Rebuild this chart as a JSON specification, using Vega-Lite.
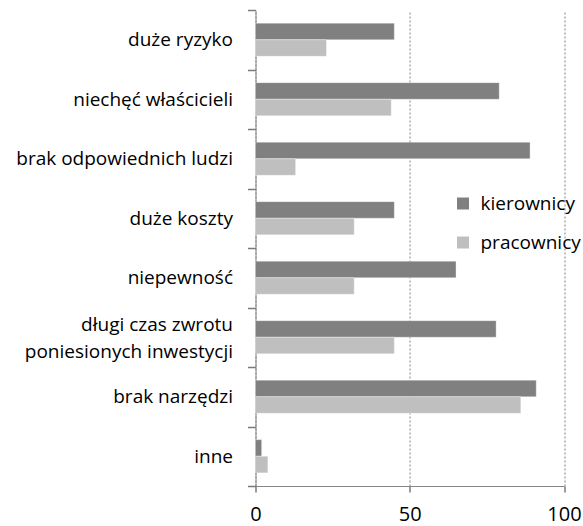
{
  "$schema": "https://vega.github.io/schema/vega-lite/v6.json",
  "autosize": {"type": "none"},
  "padding": {"left": 255.5, "top": 10, "right": 19, "bottom": 40},
  "width": 308.5,
  "height": 476,
  "background": "white",
  "config": {
    "view": {"stroke": null},
    "font": "Open Sans",
    "axis": {"ticks": true, "tickColor": "#7a7a7a", "tickWidth": 1.5, "tickOpacity": 1}
  },
  "data": {
    "values": [
      {"kategoria": "duże ryzyko", "grupa": "kierownicy", "wartosc": 45},
      {"kategoria": "duże ryzyko", "grupa": "pracownicy", "wartosc": 23},
      {"kategoria": "niechęć właścicieli", "grupa": "kierownicy", "wartosc": 79},
      {"kategoria": "niechęć właścicieli", "grupa": "pracownicy", "wartosc": 44},
      {"kategoria": "brak odpowiednich ludzi", "grupa": "kierownicy", "wartosc": 89},
      {"kategoria": "brak odpowiednich ludzi", "grupa": "pracownicy", "wartosc": 13},
      {"kategoria": "duże koszty", "grupa": "kierownicy", "wartosc": 45},
      {"kategoria": "duże koszty", "grupa": "pracownicy", "wartosc": 32},
      {"kategoria": "niepewność", "grupa": "kierownicy", "wartosc": 65},
      {"kategoria": "niepewność", "grupa": "pracownicy", "wartosc": 32},
      {"kategoria": "długi czas zwrotu poniesionych inwestycji", "grupa": "kierownicy", "wartosc": 78},
      {"kategoria": "długi czas zwrotu poniesionych inwestycji", "grupa": "pracownicy", "wartosc": 45},
      {"kategoria": "brak narzędzi", "grupa": "kierownicy", "wartosc": 91},
      {"kategoria": "brak narzędzi", "grupa": "pracownicy", "wartosc": 86},
      {"kategoria": "inne", "grupa": "kierownicy", "wartosc": 2},
      {"kategoria": "inne", "grupa": "pracownicy", "wartosc": 4}
    ]
  },
  "mark": {"type": "bar", "stroke": "#ffffff", "strokeOpacity": 0.35, "strokeWidth": 1},
  "encoding": {
    "y": {
      "field": "kategoria",
      "type": "nominal",
      "sort": null,
      "title": null,
      "scale": {"paddingInner": 0, "paddingOuter": 0},
      "axis": {
        "ticks": true,
        "tickBand": "extent",
        "domainColor": "#868686",
        "tickColor": "#7a7a7a",
        "tickSize": 8,
        "tickWidth": 1.5,
        "labelPadding": 15,
        "labelFontSize": 19,
        "labelColor": "#000000",
        "labelLimit": 300,
        "labelLineHeight": 27,
        "labelOffset": {"condition": {"test": "datum.value == 'długi czas zwrotu poniesionych inwestycji'", "value": -13}, "value": 0},
        "labelExpr": "datum.value == 'długi czas zwrotu poniesionych inwestycji' ? ['długi czas zwrotu\u00a0\u00a0\u00a0\u00a0\u00a0\u00a0', 'poniesionych inwestycji'] : datum.value"
      }
    },
    "yOffset": {
      "field": "grupa",
      "type": "nominal",
      "scale": {"paddingInner": 0, "paddingOuter": 0.79}
    },
    "x": {
      "field": "wartosc",
      "type": "quantitative",
      "title": null,
      "scale": {"domain": [0, 100], "nice": false},
      "axis": {
        "values": [0, 50, 100],
        "grid": true,
        "gridDash": [2, 2],
        "gridColor": "#808080",
        "domainColor": "#868686",
        "tickColor": "#7a7a7a",
        "tickSize": 6,
        "tickWidth": 1.5,
        "labelPadding": 12,
        "labelFontSize": 20,
        "labelColor": "#000000",
        "labelFlush": false,
        "labelBound": false
      }
    },
    "color": {
      "field": "grupa",
      "type": "nominal",
      "scale": {"domain": ["kierownicy", "pracownicy"], "range": ["#808080", "#bfbfbf"]},
      "legend": {
        "title": null,
        "orient": "none",
        "legendX": 198,
        "legendY": 184,
        "symbolType": "square",
        "symbolSize": 144,
        "symbolStrokeWidth": 0,
        "labelFontSize": 19,
        "labelColor": "#000000",
        "labelOffset": 8,
        "rowPadding": 19
      }
    }
  }
}
